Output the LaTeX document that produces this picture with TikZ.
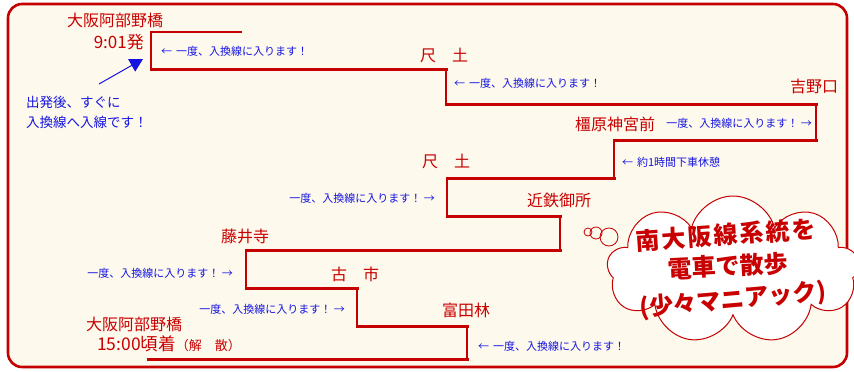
\documentclass[tikz,border=0pt]{standalone}
\usepackage{fontspec}
\setmainfont{Noto Sans CJK JP}
\usepackage{xcolor}
\usepackage{tikz}
\usetikzlibrary{arrows.meta}
\usetikzlibrary{shapes.symbols}
\definecolor{framered}{RGB}{196,0,0}
\definecolor{stationred}{RGB}{200,0,0}
\definecolor{noteblue}{RGB}{20,20,225}
\definecolor{cream}{RGB}{254,249,237}
\tikzset{track/.style={draw=framered,line width=3pt,line cap=rect}}
\tikzset{riser/.style={draw=framered,line width=1.6pt}}
\tikzset{station/.style={text=stationred,inner sep=0pt,font=\fontsize{16}{18}\selectfont}}
\tikzset{note/.style={text=noteblue,inner sep=0pt,font=\fontsize{11}{13}\selectfont}}
\tikzset{slogan/.style={text=stationred,inner sep=0pt,text height=17pt,text depth=1pt,font=\bfseries\fontsize{24}{26}\selectfont}}
\tikzset{bubblet/.style={draw=framered,line width=0.8pt}}

\begin{document}
\begin{tikzpicture}[x=1pt,y=-1pt]
	\useasboundingbox (0,0) rectangle (854,372);
	\draw[framered,line width=2.6pt,fill=cream,rounded corners=14pt] (8,4) rectangle (847,367);
	% track
	\coordinate (t0) at (242,32);
	\coordinate (t1) at (151,32);
	\coordinate (t2) at (151,69);
	\coordinate (t3) at (446,69);
	\coordinate (t4) at (446,104);
	\coordinate (t5) at (816,104);
	\coordinate (t6) at (816,140);
	\coordinate (t7) at (614,140);
	\coordinate (t8) at (614,178);
	\coordinate (t9) at (447,178);
	\coordinate (t10) at (447,216);
	\coordinate (t11) at (560,216);
	\coordinate (t12) at (560,250);
	\coordinate (t13) at (246,250);
	\coordinate (t14) at (246,288);
	\coordinate (t15) at (357,288);
	\coordinate (t16) at (357,326);
	\coordinate (t17) at (467,326);
	\coordinate (t18) at (467,359);
	\coordinate (t19) at (148,359);
	\draw[riser] (t0) -- (t1) -- (t2);
	\foreach \a/\b in {3/4,5/6,7/8,9/10,11/12,13/14,15/16,17/18}
		\draw[riser] (t\a) -- (t\b);
	\foreach \a/\b in {2/3,4/5,6/7,8/9,10/11,12/13,14/15,16/17,18/19}
		\draw[track] (t\a) -- (t\b);
	% stations
	\node[station] (abeno) at (115,20) {大阪阿部野橋};
	\node[station,anchor=east,font=\fontsize{17}{19}\selectfont] (depart) at (144,42) {9:01発};
	\node[station] (shakudo) at (444,55) {尺　土};
	\node[station] (yoshino) at (814,86) {吉野口};
	\node[station] (kashihara) at (615,124) {橿原神宮前};
	\node[station] (shakudo back) at (446,161) {尺　土};
	\node[station] (gose) at (559,200) {近鉄御所};
	\node[station] (fujiidera) at (245,236) {藤井寺};
	\node[station] (furuichi) at (355,274) {古　市};
	\node[station] (tondabayashi) at (466,310) {富田林};
	\node[station] (abeno back) at (134,324) {大阪阿部野橋};
	\node[station,anchor=west,font=\fontsize{17.5}{19}\selectfont] (arrive) at (97,344)
		{15:00頃着{\fontsize{13}{15}\selectfont （解　散）}};
	% notes
	\node[note,anchor=west] (siding a) at (161,51) {←\hspace{0.35em}一度、入換線に入ります！};
	\node[note,anchor=west] (siding b) at (454,83) {←\hspace{0.35em}一度、入換線に入ります！};
	\node[note,anchor=east] (siding c) at (812,123) {一度、入換線に入ります！ →};
	\node[note,anchor=west] (rest) at (622,162) {←\hspace{0.35em}約1時間下車休憩};
	\node[note,anchor=east] (siding d) at (435,198) {一度、入換線に入ります！ →};
	\node[note,anchor=east] (siding e) at (233,273) {一度、入換線に入ります！ →};
	\node[note,anchor=east] (siding f) at (345,309) {一度、入換線に入ります！ →};
	\node[note,anchor=west] (siding g) at (478,346) {←\hspace{0.35em}一度、入換線に入ります！};
	% remark with arrow
	\node[note,anchor=west,align=left,font=\fontsize{13.5}{20}\selectfont] (remark) at (26,112)
		{出発後、すぐに\\入換線へ入線です！};
	\coordinate (remark tail) at (99,84);
	\coordinate (remark tip) at (143,59);
	\draw[noteblue,line width=1pt,-{Triangle[length=13pt,width=14pt]}] (remark tail) -- (remark tip);
	% cloud
	\node[cloud,cloud puffs=9,aspect=1.7,draw=framered,fill=white,line width=1pt,
		minimum width=252pt,minimum height=148pt] (bubble) at (733,270) {};
	\draw[bubblet] (588,232) circle (4pt);
	\draw[bubblet] (596,233) circle (6pt);
	\draw[bubblet] (609,237) circle (9pt);
	\node[slogan,rotate=4] (slogan a) at (726,236) {\addfontfeature{LetterSpace=9}南大阪線系統を};
	\node[slogan,rotate=3] (slogan b) at (728,267) {電車で散歩};
	\node[slogan,rotate=5] (slogan c) at (733,300) {(少々マニアック)};
\end{tikzpicture}
\end{document}
